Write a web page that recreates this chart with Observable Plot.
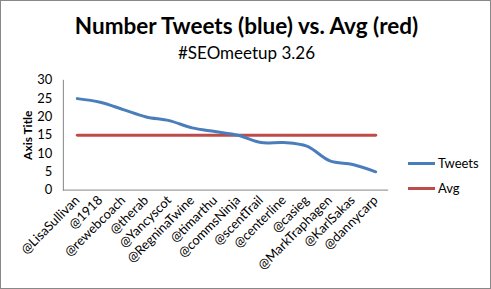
<!DOCTYPE html>
<html>
<head>
<meta charset="utf-8">
<script src="https://cdn.jsdelivr.net/npm/d3@7"></script>
<script src="https://cdn.jsdelivr.net/npm/@observablehq/plot@0.6"></script>
<style>
  html, body { margin: 0; padding: 0; background: #fff; }
  #wrap { position: relative; width: 491px; height: 289px; box-sizing: border-box; border: 1px solid #888; overflow: hidden; background:#fff; }
  #title { position: absolute; left: 0; width: 491px; top: 11px; text-align: center; font-family: Lato, "Open Sans", sans-serif; font-weight: bold; font-size: 22.5px; color: #000; }
  #subtitle { position: absolute; left: 0; width: 491px; top: 41px; text-align: center; font-family: Lato, "Open Sans", sans-serif; font-size: 17px; color: #000; }
  #chart { position: absolute; left: -1px; top: -1px; }
  .leg { position: absolute; font-family: Lato, sans-serif; font-size: 13px; color: #000; }
  .legline { position: absolute; width: 27px; height: 3px; }
</style>
</head>
<body>
<div id="wrap">
  <div id="chart"></div>
  <div id="title">Number Tweets (blue) vs. Avg (red)</div>
  <div id="subtitle">#SEOmeetup 3.26</div>
  <div class="legline" style="left:407px; top:161px; background:#4A7EBB"></div>
  <div class="leg" style="left:437px; top:154px">Tweets</div>
  <div class="legline" style="left:407px; top:186px; background:#BE4B48"></div>
  <div class="leg" style="left:437px; top:179px">Avg</div>
</div>
<script>
const handles = ["@LisaSullivan","@1918","@rewebcoach","@therab","@Yancyscot","@RegninaTwine","@timarthu","@commsNinja","@scentTrail","@centerline","@casieg","@MarkTraphagen","@KarlSakas","@dannycarp"];
const tweets = [25, 24, 22, 20, 19, 17, 16, 15, 13, 13, 12, 8, 7, 5];
const avg = [15, 15, 15, 15, 15, 15, 15, 15, 15, 15, 15, 15, 15, 15];
const yTicks = [0, 5, 10, 15, 20, 25, 30];

const tweetData = handles.map((h, i) => ({handle: h, value: tweets[i]}));
const avgData = handles.map((h, i) => ({handle: h, value: avg[i]}));

const chart = Plot.plot({
  width: 491,
  height: 289,
  marginLeft: 63,
  marginRight: 102,
  marginTop: 80,
  marginBottom: 99,
  style: {fontFamily: "Lato, sans-serif", fontSize: "13px", color: "#000", background: "transparent"},
  x: {type: "point", domain: handles, padding: 0.5},
  y: {domain: [0, 30]},
  marks: [
    Plot.axisY({ticks: yTicks, tickSize: 0, tickPadding: 11, label: null, fontSize: 13}),
    Plot.axisX({tickSize: 0, tickRotate: -45, tickPadding: 8, label: null, fontSize: 13}),
    Plot.ruleY([0], {stroke: "#868686", strokeWidth: 1}),
    Plot.frame({anchor: "left", stroke: "#868686"}),
    Plot.text(["Axis Title"], {frameAnchor: "left", dx: -35, rotate: -90, textAnchor: "middle", fontWeight: "bold", fontSize: 12}),
    Plot.line(avgData, {x: "handle", y: "value", stroke: "#BE4B48", strokeWidth: 3}),
    Plot.line(tweetData, {x: "handle", y: "value", stroke: "#4A7EBB", strokeWidth: 3, curve: "catmull-rom"})
  ]
});
document.getElementById("chart").appendChild(chart);
</script>
</body>
</html>
